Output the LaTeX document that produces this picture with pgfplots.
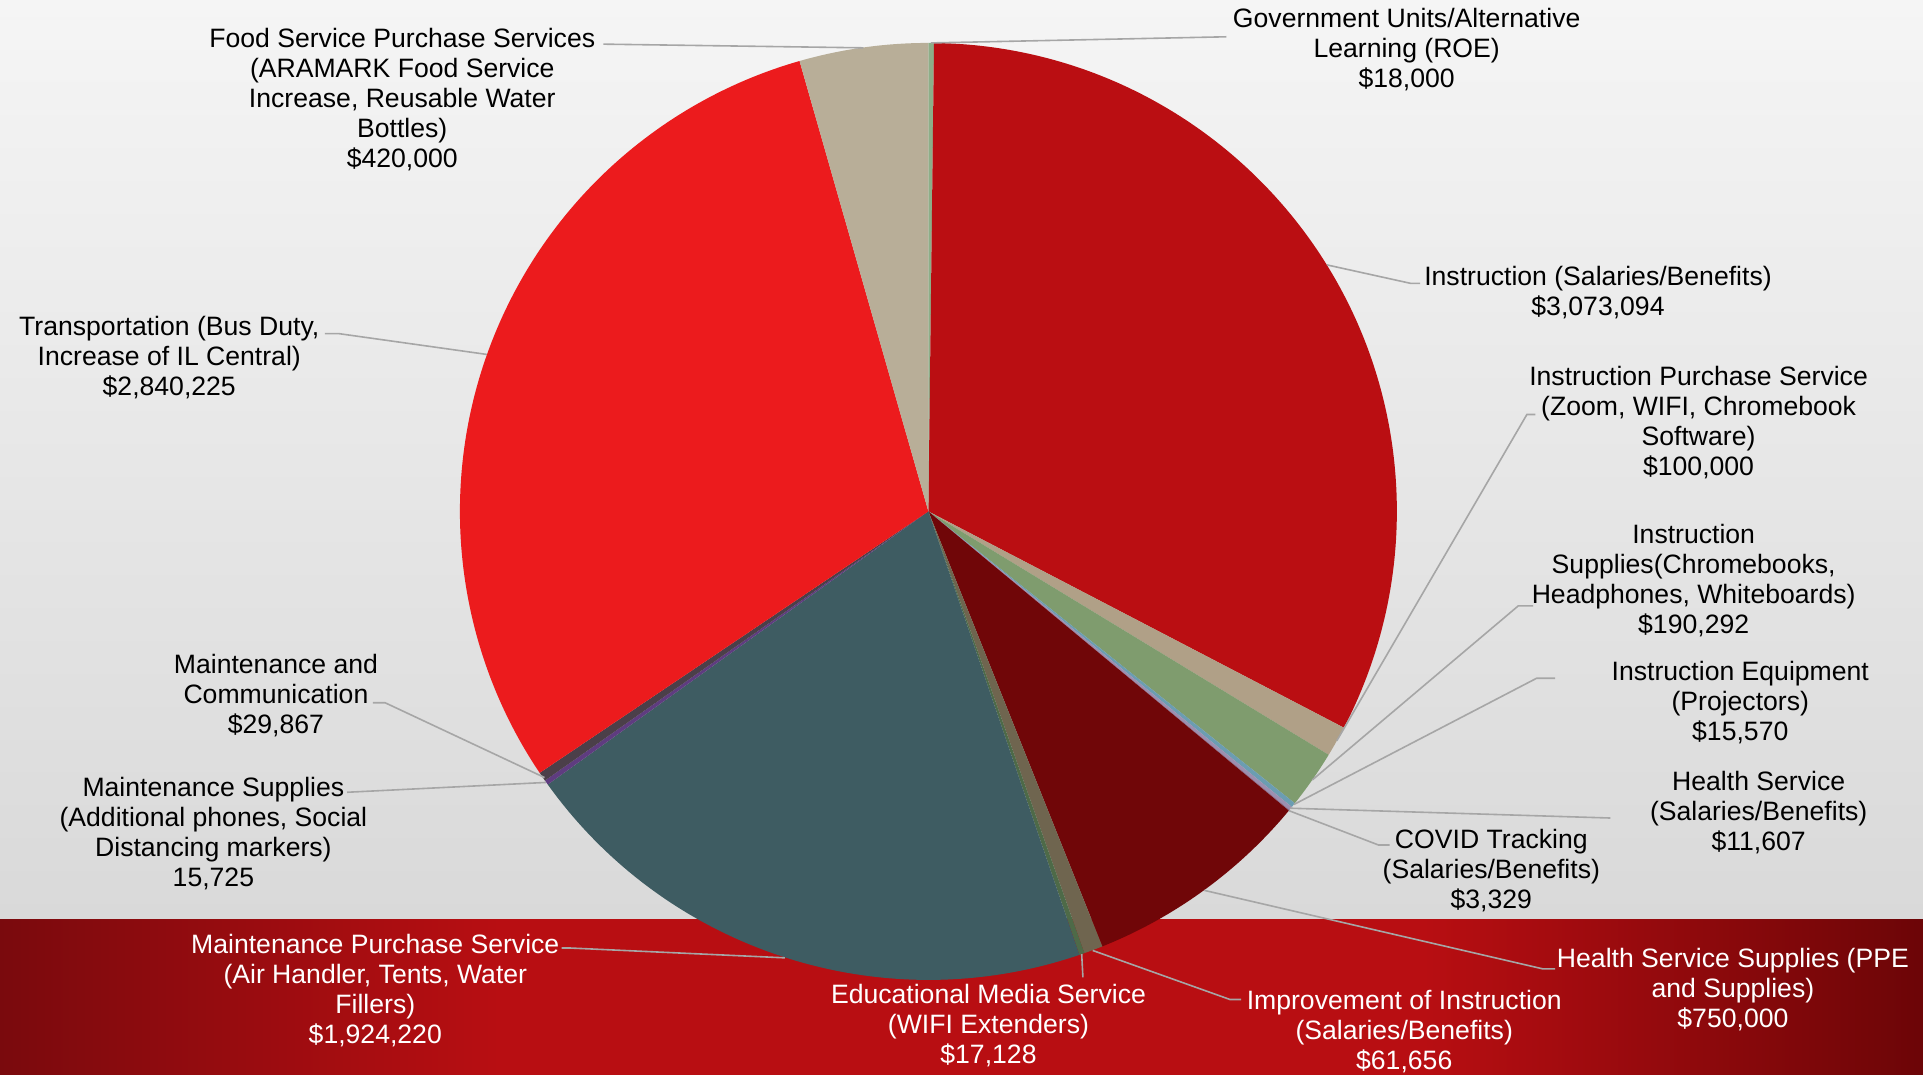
\documentclass[border=0pt]{standalone}
\usepackage{pgfplots}
\pgfplotsset{compat=1.18}
\usepackage{pgfplotstable}
\usepackage{fontspec}
\setmainfont{Liberation Sans}

% slice colours
\definecolor{cGov}{HTML}{8DAE88}
\definecolor{cInst}{HTML}{BA0E12}
\definecolor{cIPS}{HTML}{B0A087}
\definecolor{cSup}{HTML}{7F9C6E}
\definecolor{cEqu}{HTML}{6B9DB2}
\definecolor{cHea}{HTML}{9C8FB0}
\definecolor{cCov}{HTML}{8E6F8F}
\definecolor{cHss}{HTML}{700608}
\definecolor{cImp}{HTML}{6F654F}
\definecolor{cEdm}{HTML}{4E6A48}
\definecolor{cMps}{HTML}{3E5C62}
\definecolor{cMsu}{HTML}{5F3C80}
\definecolor{cMco}{HTML}{4B3F49}
\definecolor{cTra}{HTML}{EC1B1D}
\definecolor{cFoo}{HTML}{B8AE98}
\definecolor{lead}{HTML}{A6A6A6}
\definecolor{bgTop}{HTML}{F5F5F5}
\definecolor{bgBot}{HTML}{D9D9D9}
\definecolor{bandL}{HTML}{7A0A0D}
\definecolor{bandM}{HTML}{B80E12}
\definecolor{bandR}{HTML}{6C0507}

% the path box is mapped onto 25bp..75bp of the shading
\pgfdeclarehorizontalshading{bandshade}{100bp}{color(0bp)=(bandL); color(25bp)=(bandL); color(38bp)=(bandM); color(62bp)=(bandM); color(75bp)=(bandR); color(100bp)=(bandR)}

\tikzset{
  lbl/.style={font=\fontsize{13.3}{15}\selectfont, align=center, inner sep=0pt, text=black},
  wlbl/.style={lbl, text=white},
}

% amounts in thousands of dollars, clockwise from 12 o'clock
\pgfplotstableread{
val col
18.000 cGov
3073.094 cInst
100.000 cIPS
190.292 cSup
15.570 cEqu
11.607 cHea
3.329 cCov
750.000 cHss
61.656 cImp
17.128 cEdm
1924.220 cMps
15.725 cMsu
29.867 cMco
2840.225 cTra
420.000 cFoo
}\pietable

\def\total{9470.713}
\def\R{234.24pt}

\begin{document}
\begin{tikzpicture}
\begin{axis}[
  x=0.6132pt, y=0.6132pt,
  xmin=0, xmax=1568, ymin=0, ymax=876,
  y dir=reverse,
  hide axis, clip=false,
]
% background
\fill[top color=bgTop, bottom color=bgBot] (axis cs:0,0) rectangle (axis cs:1568,750);
\shade[shading=bandshade] (axis cs:0,750) rectangle (axis cs:1568,876);

% pie slices
\def\cum{0}
\pgfplotsforeachungrouped \i in {0,...,14}{%
  \pgfplotstablegetelem{\i}{val}\of\pietable \let\v\pgfplotsretval
  \pgfplotstablegetelem{\i}{col}\of\pietable \let\c\pgfplotsretval
  \pgfmathsetmacro\a{90-\cum/\total*360}%
  \pgfmathsetmacro\cum{\cum+\v}%
  \pgfmathsetmacro\b{90-\cum/\total*360}%
  \edef\temp{\noexpand\fill[\c] (axis cs:757,417) -- ++(\a:\R) arc[start angle=\a, end angle=\b, radius=\R] -- cycle;}%
  \temp
}

% leader lines
\begin{scope}[lead, line width=0.8pt]
\draw (axis cs:759,35) -- (axis cs:1000,30);
\draw (axis cs:1082,216) -- (axis cs:1150,231) -- (axis cs:1158,231);
\draw (axis cs:1090,604) -- (axis cs:1245,338) -- (axis cs:1252,338);
\draw (axis cs:1070,636) -- (axis cs:1238,494) -- (axis cs:1250,494);
\draw (axis cs:1055,656) -- (axis cs:1253,553) -- (axis cs:1268,553);
\draw (axis cs:1052,659) -- (axis cs:1313,667);
\draw (axis cs:1051,661) -- (axis cs:1124,689) -- (axis cs:1133,689);
\draw (axis cs:982,726) -- (axis cs:1258,790) -- (axis cs:1268,790);
\draw (axis cs:891,775) -- (axis cs:1003,815) -- (axis cs:1012,815);
\draw (axis cs:882,778) -- (axis cs:883,797);
\draw (axis cs:640,781) -- (axis cs:465,773) -- (axis cs:458,773);
\draw (axis cs:445,638) -- (axis cs:283,646);
\draw (axis cs:444,634) -- (axis cs:314,573) -- (axis cs:304,573);
\draw (axis cs:397,289) -- (axis cs:276,272) -- (axis cs:265,272);
\draw (axis cs:704,39) -- (axis cs:492,36);
\end{scope}

% labels
\node[lbl] at (axis cs:1147,40.5) {Government Units/Alternative\\Learning (ROE)\\\$18,000};
\node[lbl] at (axis cs:1303,238.5) {Instruction (Salaries/Benefits)\\\$3,073,094};
\node[lbl] at (axis cs:1385,344.5) {Instruction Purchase Service\\(Zoom, WIFI, Chromebook\\Software)\\\$100,000};
\node[lbl] at (axis cs:1381,473.5) {Instruction\\Supplies(Chromebooks,\\Headphones, Whiteboards)\\\$190,292};
\node[lbl] at (axis cs:1419,572.5) {Instruction Equipment\\(Projectors)\\\$15,570};
\node[lbl] at (axis cs:1434,662.5) {Health Service\\(Salaries/Benefits)\\\$11,607};
\node[lbl] at (axis cs:1216,709.5) {COVID Tracking\\(Salaries/Benefits)\\\$3,329};
\node[wlbl] at (axis cs:1413,806.5) {Health Service Supplies (PPE\\and Supplies)\\\$750,000};
\node[wlbl] at (axis cs:1145,841.5) {Improvement of Instruction\\(Salaries/Benefits)\\\$61,656};
\node[wlbl] at (axis cs:806,836.5) {Educational Media Service\\(WIFI Extenders)\\\$17,128};
\node[wlbl] at (axis cs:306,807.5) {Maintenance Purchase Service\\(Air Handler, Tents, Water\\Fillers)\\\$1,924,220};
\node[lbl] at (axis cs:174,679.5) {Maintenance Supplies\\(Additional phones, Social\\Distancing markers)\\15,725};
\node[lbl] at (axis cs:225,567.5) {Maintenance and\\Communication\\\$29,867};
\node[lbl] at (axis cs:138,291.5) {Transportation (Bus Duty,\\Increase of IL Central)\\\$2,840,225};
\node[lbl] at (axis cs:328,81.5) {Food Service Purchase Services\\(ARAMARK Food Service\\Increase, Reusable Water\\Bottles)\\\$420,000};
\end{axis}
\end{tikzpicture}
\end{document}
